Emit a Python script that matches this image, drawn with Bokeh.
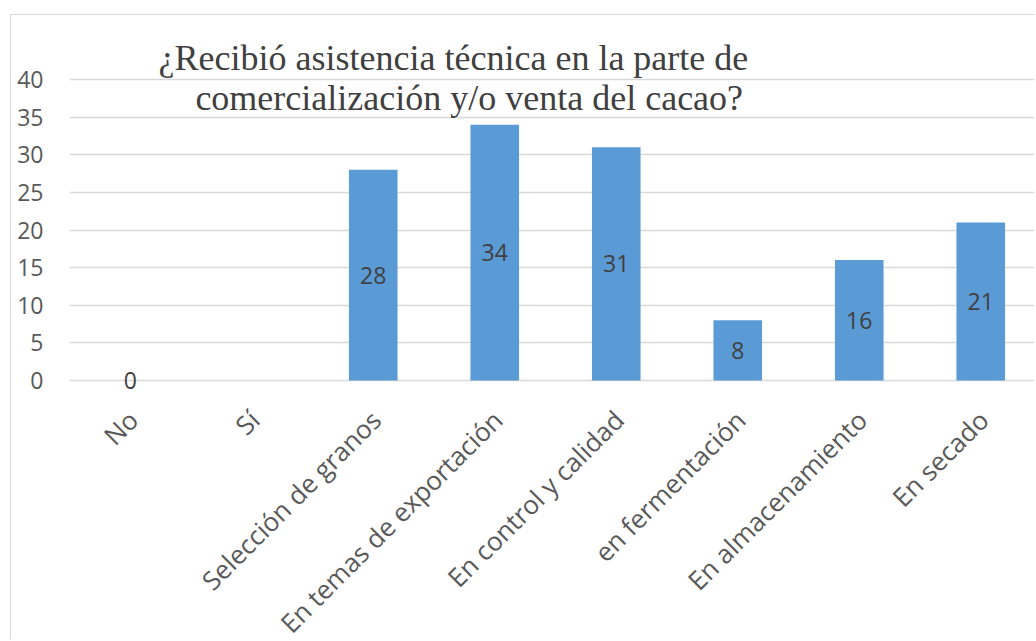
import math
from bokeh.plotting import figure
from bokeh.models import ColumnDataSource, Range1d, FixedTicker, Label
from bokeh.core.properties import value
from bokeh.embed import file_html
from bokeh.resources import INLINE

# ---- data ----
categories = ["No", "Sí", "Selección de granos", "En temas de exportación",
              "En control y calidad", "en fermentación", "En almacenamiento", "En secado"]
counts = [0, None, 28, 34, 31, 8, 16, 21]
y_ticks = [0, 5, 10, 15, 20, 25, 30, 35, 40]
title_lines = ["¿Recibió asistencia técnica en la parte de",
               "comercialización y/o venta del cacao?"]

idx = [i for i, v in enumerate(counts) if v is not None]
src = ColumnDataSource(dict(
    x=idx,
    top=[counts[i] for i in idx],
    mid=[counts[i] / 2 for i in idx],
    lab=[str(counts[i]) for i in idx],
))
cat_src = ColumnDataSource(dict(x=list(range(len(categories))), name=categories))

# ---- layout (figure sits at page offset 11,15 inside the chart border) ----
W, H = 1024, 625
LEFT = 58                 # frame left inside the figure
band = 121.5              # px per category
ppu = 301 / 40            # px per y unit
zero_y = 365              # y=0 position from figure top
y_top = zero_y / ppu
y_bot = -(H - zero_y) / ppu
frame_w = W - LEFT

p = figure(width=W, height=H, output_backend="svg", toolbar_location=None,
           x_range=Range1d(-0.5, -0.5 + frame_w / band), y_range=Range1d(y_bot, y_top),
           min_border_left=LEFT, min_border_right=0, min_border_top=0, min_border_bottom=0,
           tools="",
           styles={"margin-left": "10px", "margin-top": "14px",
                   "border-left": "1px solid #d9d9d9", "border-top": "1px solid #d9d9d9"})
p.outline_line_color = None
p.background_fill_color = "white"
p.border_fill_color = "white"

p.vbar(x="x", top="top", bottom=0, width=0.4, source=src,
       fill_color="#5B9BD5", line_color=None)
p.text(x="x", y="mid", text="lab", source=src, text_align="center", text_baseline="middle",
       text_font=value("Open Sans"), text_font_size="23px", text_color="#404040")

# category labels (rotated 45°, right end under each bar)
p.text(x="x", y=-2.9, x_offset=-10, text="name", source=cat_src, angle=math.pi / 4,
       text_align="right", text_baseline="top",
       text_font=value("Open Sans"), text_font_size="26px", text_color="#595959")

p.xaxis.visible = False

p.yaxis.ticker = FixedTicker(ticks=y_ticks)
p.yaxis.major_label_text_font = "Open Sans"
p.yaxis.major_label_text_font_size = "23px"
p.yaxis.major_label_text_color = "#595959"
p.yaxis.major_label_standoff = 20
p.yaxis.axis_line_color = None
p.yaxis.major_tick_line_color = None
p.yaxis.minor_tick_line_color = None

p.xgrid.grid_line_color = None
p.ygrid.grid_line_color = "#d9d9d9"
p.ygrid.grid_line_width = 1.5

# title (overlapping the plot area as in the original)
p.add_layout(Label(x=2.66, y=42.9, text=title_lines[0], text_align="center",
                   text_baseline="middle", text_font="Liberation Serif",
                   text_font_size="36px", text_color="#404040"))
p.add_layout(Label(x=2.79, y=37.6, text=title_lines[1], text_align="center",
                   text_baseline="middle", text_font="Liberation Serif",
                   text_font_size="36px", text_color="#404040"))

open("out.html", "w").write(file_html(p, INLINE))
